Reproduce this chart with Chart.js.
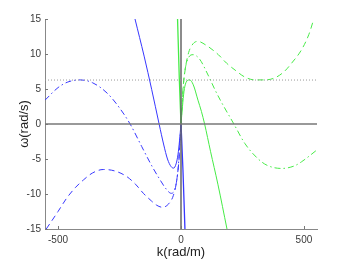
<!DOCTYPE html>
<html lang="en">
  <head>
    <meta charset="UTF-8" />
    <title>Dispersion branches</title>
    <script src="https://cdn.jsdelivr.net/npm/chart.js"></script>
    <style>
      html, body { margin: 0; padding: 0; background: #fff; }
      #wrap { width: 350px; height: 263px; }
    </style>
  </head>
  <body>
    <div id="wrap"><canvas id="dispChart"></canvas></div>

    <script>
      // axis limits and ticks
      const kMin = -553;
      const kMax = 553;
      const wMin = -15;
      const wMax = 15;
      const kTicks = [-500, 0, 500];
      const wTicks = [-15, -10, -5, 0, 5, 10, 15];
      const twoPi = 6.28;

      // blue branches (k < 0 side), [k, omega]
      const blueSolid = [
        [-187, 15], [-150, 9.7], [-119, 4.9], [-89, 0], [-70, -3.0], [-55, -5.0],
        [-40, -6.1], [-30, -6.3], [-20, -5.7], [-12, -4.3], [-6, -2.4], [0, 0],
      ];
      const blueSteep = [[0, 0], [8, -6.6], [16, -15]];
      const blueDashed = [
        [-548, -15], [-500, -12.5], [-465, -10.6], [-430, -9.1], [-397, -8.0],
        [-360, -7.0], [-316, -6.5], [-270, -6.7], [-221, -7.5], [-185, -8.6],
        [-153, -9.9], [-120, -11.0], [-99, -11.6], [-75, -11.9], [-50, -11.4],
        [-31, -10.2], [-18, -8.2], [-8, -5.0], [0, 0],
      ];
      const blueDashDot = [
        [-553, 3.4], [-500, 5.2], [-460, 6.0], [-410, 6.3], [-360, 5.9],
        [-300, 4.4], [-250, 2.3], [-207, 0], [-160, -3.2], [-120, -5.9],
        [-90, -7.7], [-60, -9.3], [-40, -9.9], [-25, -9.3], [-12, -6.5], [0, 0],
      ];

      // green branches (k > 0 side)
      const greenSteep = [[-14, 15], [-7, 6.6], [0, 0]];
      const greenSolid = [
        [0, 0], [6, 2.5], [12, 4.6], [20, 5.9], [35, 6.3], [50, 5.6], [69, 3.4],
        [83, 1.8], [96, 0], [120, -3.9], [150, -8.6], [187, -15],
      ];
      const greenDashed = [
        [0, 0], [8, 5.0], [18, 8.0], [31, 10.2], [50, 11.5], [69, 11.8],
        [100, 11.3], [152, 9.9], [185, 8.7], [220, 7.7], [260, 6.7], [301, 6.3],
        [340, 6.3], [382, 6.6], [420, 7.5], [450, 8.7], [490, 10.6], [520, 12.8],
        [540, 15],
      ];
      const greenDashDot = [
        [0, 0], [12, 6.5], [25, 9.0], [49, 9.9], [75, 9.3], [110, 7.0],
        [138, 4.9], [160, 3.4], [215, 0], [260, -2.8], [314, -5.0], [350, -5.9],
        [409, -6.35], [460, -6.0], [490, -5.4], [553, -3.7],
      ];

      const blue = "rgb(55, 55, 255)";
      const green = "rgb(70, 235, 70)";

      const pts = (arr) => arr.map(([x, y]) => ({ x, y }));

      function line(data, color, dash, width = 1) {
        return {
          data: pts(data),
          borderColor: color,
          borderWidth: width,
          borderDash: dash,
          pointRadius: 0,
          showLine: true,
          fill: false,
          tension: 0.4,
          cubicInterpolationMode: "monotone",
        };
      }

      // inward tick marks, like the original figure
      const innerTicks = {
        id: "innerTicks",
        afterDraw(chart) {
          const { ctx, chartArea, scales } = chart;
          ctx.save();
          ctx.strokeStyle = "#777";
          ctx.lineWidth = 1;
          ctx.beginPath();
          wTicks.forEach((v) => {
            const y = Math.round(scales.y.getPixelForValue(v)) + 0.5;
            ctx.moveTo(chartArea.left, y);
            ctx.lineTo(chartArea.left + 3, y);
          });
          kTicks.forEach((v) => {
            const x = Math.round(scales.x.getPixelForValue(v)) + 0.5;
            ctx.moveTo(x, chartArea.bottom);
            ctx.lineTo(x, chartArea.bottom - 3);
          });
          ctx.stroke();
          ctx.restore();
        },
      };

      const ctx = document.getElementById("dispChart").getContext("2d");
      new Chart(ctx, {
        type: "scatter",
        data: {
          datasets: [
            line([[kMin, twoPi], [kMax, twoPi]], "#999", [1, 2]),
            line([[kMin, 0], [kMax, 0]], "#777", [], 1.5),
            line([[0, wMin], [0, wMax]], "#666", [], 1.5),
            line(blueSolid, blue, []),
            line(blueSteep, blue, [], 1.3),
            line(blueDashed, blue, [6, 4]),
            line(blueDashDot, blue, [6, 3, 1.5, 3]),
            line(greenSteep, green, [], 1.3),
            line(greenSolid, green, []),
            line(greenDashed, green, [6, 4]),
            line(greenDashDot, green, [6, 3, 1.5, 3]),
          ],
        },
        options: {
          responsive: true,
          maintainAspectRatio: false,
          animation: false,
          layout: { padding: { top: 19, right: 33, left: 0, bottom: 0 } },
          plugins: { legend: { display: false }, tooltip: { enabled: false } },
          scales: {
            x: {
              type: "linear",
              min: kMin,
              max: kMax,
              afterBuildTicks: (s) => {
                s.ticks = kTicks.map((v) => ({ value: v }));
              },
              afterFit: (s) => {
                s.height = 34;
              },
              grid: { display: false, drawTicks: false },
              border: { display: true, color: "#888", width: 1 },
              ticks: {
                color: "#3a3a3a",
                padding: 5,
                font: { family: "Liberation Sans", size: 10 },
              },
              title: {
                display: true,
                text: "k(rad/m)",
                color: "#222",
                font: { family: "Liberation Sans", size: 13 },
                padding: { top: 0, bottom: 3 },
              },
            },
            y: {
              min: wMin,
              max: wMax,
              afterBuildTicks: (s) => {
                s.ticks = wTicks.map((v) => ({ value: v }));
              },
              afterFit: (s) => {
                s.width = 45;
              },
              grid: { display: false, drawTicks: false },
              border: { display: true, color: "#888", width: 1 },
              ticks: {
                color: "#3a3a3a",
                padding: 4,
                font: { family: "Liberation Sans", size: 10 },
              },
              title: {
                display: true,
                text: "ω(rad/s)",
                color: "#222",
                font: { family: "Liberation Sans", size: 13 },
                padding: { top: 17, bottom: 0 },
              },
            },
          },
        },
        plugins: [innerTicks],
      });
    </script>
  </body>
</html>
